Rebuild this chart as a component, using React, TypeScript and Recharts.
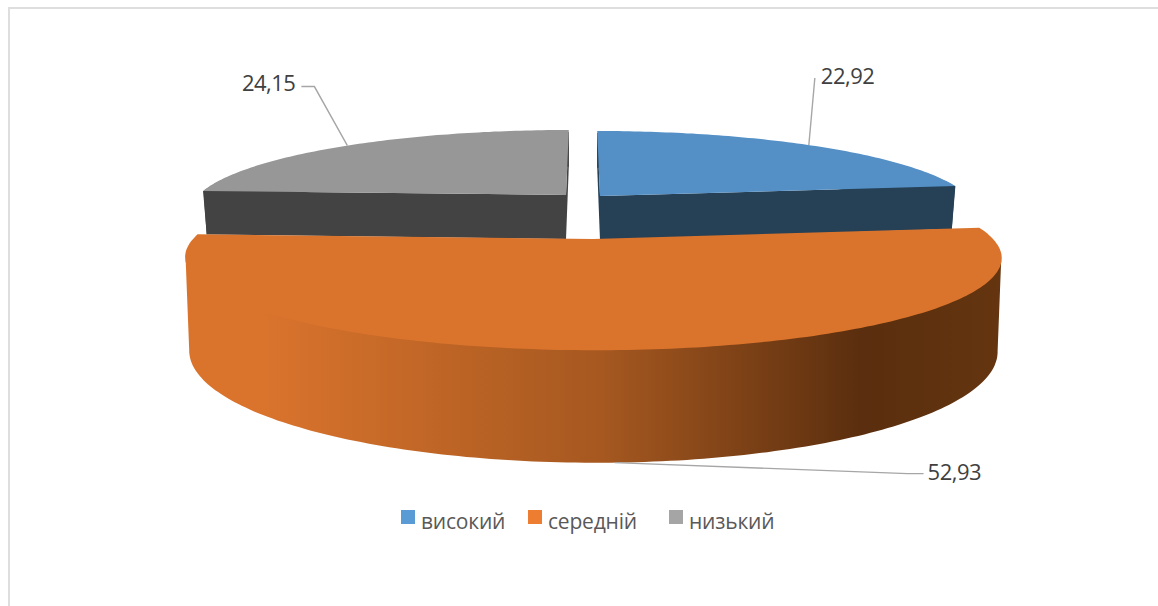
import { PieChart, Pie, Legend } from "recharts";

const levels = ["високий", "середній", "низький"];
const shares = [22.92, 52.93, 24.15];
const legendColors = ["#5B9BD5", "#ED7D31", "#A5A5A5"];

const chartData = levels.map((name, i) => ({
  name,
  value: shares[i],
  fill: legendColors[i],
}));

const CX = 583;
const CY = 214;
const RADIUS = 366;
const TILT = 0.2; // perspective strength of the tilted disc
const FONT = "'Open Sans', Lato, sans-serif";

// how each slice is pulled out and shaded
const sliceLook: Record<string, any> = {
  високий: { dx: 17, dy: -18, scale: 1.006, flat: 78, depth: 44, top: "#5490C6", wall: "#264056", cutFaces: true },
  середній: { dx: 10, dy: 25, scale: 1.093, flat: 89, depth: 90, top: "#DA742D", wall: "url(#sideShade)", cutFaces: false },
  низький: { dx: -17, dy: -19, scale: 1.004, flat: 78, depth: 44, top: "#979797", wall: "#434343", cutFaces: true },
};

// where each value label sits relative to its leader start
const labelLook: Record<string, any> = {
  високий: { knee: [6, -67], tx: 12, ty: -70, anchor: "start" },
  середній: { knee: [293, 11], tx: 313, ty: 8, anchor: "start" },
  низький: { knee: [-33, -59], tx: -52, ty: -64, anchor: "end" },
};

function project(look: any, cx: number, cy: number, radius: number, deg: number) {
  const rad = (deg * Math.PI) / 180;
  const p = Math.sin(rad);
  const s = 1 / (1 + TILT * p);
  return {
    x: cx + look.dx + radius * look.scale * Math.cos(rad) * s + look.dx * (s - 1),
    y: cy + look.dy - look.flat * p * s,
    s,
  };
}

function lower(look: any, cx: number, pt: { x: number; y: number; s: number }) {
  const ax = cx + look.dx;
  return { x: ax + (pt.x - ax) * 0.99, y: pt.y + look.depth * pt.s };
}

function toPath(points: { x: number; y: number }[]) {
  return "M" + points.map((pt) => `${pt.x.toFixed(1)} ${pt.y.toFixed(1)}`).join("L") + "Z";
}

function TiltedSlice(props: any) {
  const { cx, cy, outerRadius, startAngle, endAngle, name } = props;
  const look = sliceLook[name];
  const arc: { x: number; y: number; s: number }[] = [];
  const steps = Math.ceil(Math.abs(startAngle - endAngle));
  for (let i = 0; i <= steps; i++) {
    const deg = startAngle + ((endAngle - startAngle) * i) / steps;
    arc.push(project(look, cx, cy, outerRadius, deg));
  }
  const apex = { x: cx + look.dx, y: cy + look.dy, s: 1 };
  const apexLow = lower(look, cx, apex);
  const first = arc[0];
  const last = arc[arc.length - 1];

  // the rim only shows between the arc's widest points
  const xs = arc.map((pt) => pt.x);
  const right = xs.indexOf(Math.max(...xs));
  const left = xs.indexOf(Math.min(...xs));
  const visible = arc.slice(Math.min(left, right), Math.max(left, right) + 1);
  // upper rim edge tucked under the top face so no light seam shows between them
  const tucked = visible.map((pt) => ({
    x: pt.x + (apex.x - pt.x) * 0.001,
    y: pt.y + (apex.y - pt.y) * 0.03,
  }));
  const rim = [...tucked, ...visible.map((pt) => lower(look, cx, pt)).reverse()];

  return (
    <g>
      <defs>
        <linearGradient id="sideShade" x1="0" y1="0" x2="1" y2="0">
          <stop offset="0.09" stopColor="#DA742D" />
          <stop offset="0.51" stopColor="#A65820" />
          <stop offset="0.83" stopColor="#5A2E0E" />
          <stop offset="1" stopColor="#64350F" />
        </linearGradient>
      </defs>
      <path d={toPath(rim)} fill={look.wall} />
      {look.cutFaces && (
        <>
          <path d={toPath([first, apex, apexLow, lower(look, cx, first)])} fill={look.wall} />
          <path d={toPath([last, apex, apexLow, lower(look, cx, last)])} fill={look.wall} />
        </>
      )}
      <path d={toPath([apex, ...arc])} fill={look.top} />
    </g>
  );
}

const BackSlices = (props: any) => (props.name === levels[1] ? <g /> : <TiltedSlice {...props} />);
const FrontSlice = (props: any) => (props.name === levels[1] ? <TiltedSlice {...props} /> : <g />);

function ValueLabel(props: any) {
  const { cx, cy, outerRadius, midAngle, name, value } = props;
  const look = sliceLook[name];
  const pos = labelLook[name];
  const top = project(look, cx, cy, outerRadius, midAngle);
  const from = name === levels[1] ? lower(look, cx, top) : top;
  const kneeX = from.x + pos.knee[0];
  const kneeY = from.y + pos.knee[1];
  const line =
    name === levels[1]
      ? `${from.x},${from.y} ${kneeX},${kneeY} ${kneeX + 16},${kneeY}`
      : name === levels[2]
        ? `${from.x},${from.y} ${kneeX},${kneeY} ${kneeX - 13},${kneeY}`
        : `${from.x},${from.y} ${kneeX},${kneeY}`;
  return (
    <g>
      <polyline points={line} fill="none" stroke="#A6A6A6" strokeWidth={1.4} />
      <text
        x={from.x + pos.tx}
        y={from.y + pos.ty}
        textAnchor={pos.anchor}
        dominantBaseline="central"
        fontFamily={FONT}
        fontSize={22}
        letterSpacing={-0.5}
        fill="#404040"
      >
        {String(value).replace(".", ",")}
      </text>
    </g>
  );
}

// left edge of each legend entry
const legendLefts = [0, 127, 268];

function LegendRow({ payload }: any) {
  const entries = (payload || []).filter((entry: any) => entry.type !== "none");
  return (
    <div style={{ position: "relative", width: 380, height: 30, fontFamily: FONT, fontSize: 21, color: "#595959", lineHeight: "30px" }}>
      {levels.map((level, i) => {
        const entry = entries.find((item: any) => item.value === level);
        return (
          <div key={level} style={{ position: "absolute", left: legendLefts[i], top: 0, whiteSpace: "nowrap" }}>
            <span style={{ position: "absolute", left: 0, top: 4, width: 14, height: 14, background: entry?.color }} />
            <span style={{ position: "absolute", left: 20, top: 0, letterSpacing: -0.2 }}>{level}</span>
          </div>
        );
      })}
    </div>
  );
}

export default function App() {
  return (
    <div style={{ position: "absolute", left: 0, top: 0, width: 1158, height: 606, background: "#fff", overflow: "hidden" }}>
      <div style={{ position: "absolute", left: 8, top: 7, width: 1150, height: 599, borderLeft: "2px solid #DEDEDE", borderTop: "2px solid #DEDEDE" }} />
      <PieChart width={1158} height={606} margin={{ top: 0, right: 0, bottom: 0, left: 0 }}>
        <Pie
          data={chartData}
          dataKey="value"
          nameKey="name"
          cx={CX}
          cy={CY}
          outerRadius={RADIUS}
          startAngle={90}
          endAngle={-270}
          stroke="none"
          shape={BackSlices}
          isAnimationActive={false}
        />
        <Pie
          data={chartData}
          dataKey="value"
          nameKey="name"
          cx={CX}
          cy={CY}
          outerRadius={RADIUS}
          startAngle={90}
          endAngle={-270}
          stroke="none"
          shape={FrontSlice}
          legendType="none"
          label={ValueLabel}
          labelLine={false}
          isAnimationActive={false}
        />
        <Legend content={LegendRow} wrapperStyle={{ left: 401, top: 506, bottom: "auto", width: 380 }} />
      </PieChart>
    </div>
  );
}
